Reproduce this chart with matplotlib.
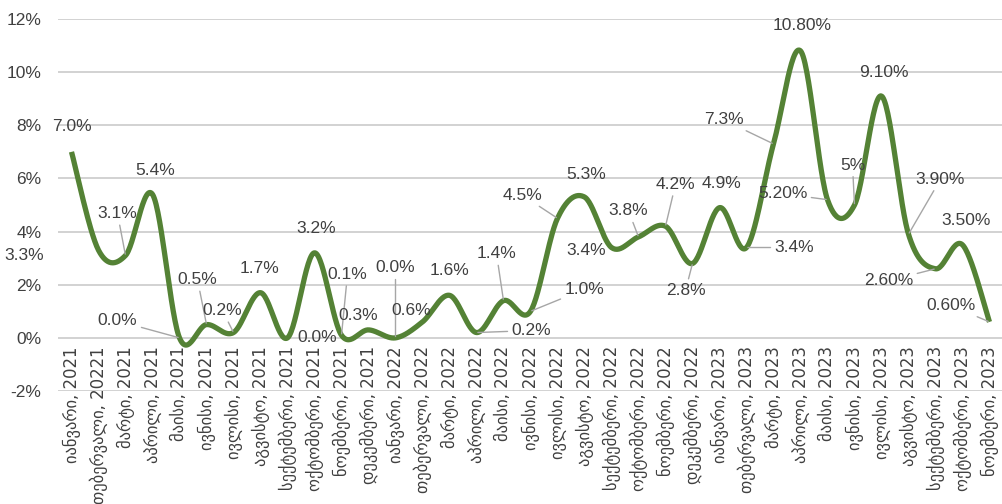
import numpy as np
import matplotlib
matplotlib.use("Agg")
from matplotlib import pyplot as plt

# month names (Georgian) and years, as written on the chart
months = [
    "იანვარი", "თებერვალი", "მარტი", "აპრილი", "მაისი", "ივნისი",
    "ივლისი", "აგვისტო", "სექტემბერი", "ოქტომბერი", "ნოემბერი", "დეკემბერი",
]
tick_labels = (
    [f"{m}, 2021" for m in months]
    + [f"{m}, 2022" for m in months]
    + [f"{m}, 2023" for m in months[:11]]
)
tick_labels[1] = "თებერვალი, 20221"

values = [
    7.0, 3.3, 3.1, 5.4, 0.0, 0.5, 0.2, 1.7, 0.0, 3.2, 0.1, 0.3,
    0.0, 0.6, 1.6, 0.2, 1.4, 1.0, 4.5, 5.3, 3.4, 3.8, 4.2, 2.8,
    4.9, 3.4, 7.3, 10.8, 5.2, 5.0, 9.1, 3.9, 2.6, 3.5, 0.6,
]
value_labels = [
    "7.0%", "3.3%", "3.1%", "5.4%", "0.0%", "0.5%", "0.2%", "1.7%", "0.0%", "3.2%", "0.1%", "0.3%",
    "0.0%", "0.6%", "1.6%", "0.2%", "1.4%", "1.0%", "4.5%", "5.3%", "3.4%", "3.8%", "4.2%", "2.8%",
    "4.9%", "3.4%", "7.3%", "10.80%", "5.20%", "5%", "9.10%", "3.90%", "2.60%", "3.50%", "0.60%",
]

# label offsets from each point, in pixels (dx, dy up), and whether a leader line is drawn
label_offsets = [
    (0, 25), (-74, -5), (-8, 42), (3, 24), (-62, 17), (-9, 45), (-11, 22), (-1, 24),
    (30, 0), (2, 24), (6, 61), (-10, 14),
    (0, 70), (-11, 11), (0, 25), (55, 2), (-7, 47), (54, 22), (-35, 23), (2, 23),
    (-25, -3), (-10, 26), (10, 42), (-7, -27),
    (2, 24), (48, 0), (-50, 24), (2, 25), (-45, 6), (-2, 40), (2, 24), (32, 55),
    (-47, -12), (4, 24), (-38, 16),
]
leaders = [
    0, 0, 1, 0, 1, 1, 1, 0, 0, 0, 1, 0,
    1, 0, 0, 1, 1, 1, 1, 0, 0, 1, 1, 1,
    0, 1, 1, 0, 1, 1, 0, 1, 1, 0, 1,
]


def smooth(xs, ys, n=30):
    # Bezier smoothing like a spreadsheet "smoothed line" (Catmull-Rom tangents)
    p = np.column_stack([xs, ys]).astype(float)
    ext = np.vstack([p[0], p, p[-1]])
    out = []
    for i in range(len(p) - 1):
        p0, p1, p2, p3 = ext[i], ext[i + 1], ext[i + 2], ext[i + 3]
        b1 = p1 + (p2 - p0) / 6
        b2 = p2 - (p3 - p1) / 6
        t = np.linspace(0, 1, n, endpoint=(i == len(p) - 2))[:, None]
        seg = ((1 - t) ** 3) * p1 + 3 * ((1 - t) ** 2) * t * b1 + 3 * (1 - t) * t ** 2 * b2 + t ** 3 * p2
        out.append(seg)
    out = np.vstack(out)
    return out[:, 0], out[:, 1]


text_color = "#404040"
grid_color = "#c6c6c6"
line_color = "#548235"
fonts = ["Liberation Sans", "DejaVu Sans"]
tick_fonts = ["Liberation Sans Narrow", "DejaVu Sans"]

fig = plt.figure(figsize=(10.03, 5.04), dpi=100)
ax = fig.add_axes([58 / 1003, 1 - 391 / 504, 1 - 58 / 1003, (391 - 19) / 504])

x = np.arange(len(values))
sx, sy = smooth(x, values)
ax.plot(sx, sy, color=line_color, linewidth=3.8, solid_capstyle="butt", zorder=3)

for yv in range(-2, 13, 2):
    ax.axhline(yv, color=grid_color, linewidth=1.1, zorder=0)

ax.set_xlim(-0.5, len(values) - 0.5)
ax.set_ylim(-2, 12)
ax.set_yticks(range(-2, 13, 2))
ax.set_yticklabels([f"{v}%" for v in range(-2, 13, 2)], family=fonts, fontsize=12.5, color=text_color)
ax.tick_params(axis="y", length=0, pad=12)

ax.spines["bottom"].set_position(("data", 0))
for s in ["top", "right", "left", "bottom"]:
    ax.spines[s].set_visible(False)
ax.set_xticks(x)
ax.set_xticklabels(tick_labels, rotation=90, family=tick_fonts, fontsize=11.9, color=text_color)
ax.tick_params(axis="x", length=0, pad=6)

for i, v in enumerate(values):
    dx, dy = label_offsets[i]
    kw = {}
    if leaders[i]:
        kw["arrowprops"] = dict(arrowstyle="-", color="#a6a6a6", lw=1.0, shrinkA=1, shrinkB=1)
    ax.annotate(
        value_labels[i], xy=(i, v), xytext=(dx, dy), textcoords="offset pixels",
        ha="center", va="center", fontsize=12.5, family=fonts, color=text_color,
        zorder=4, **kw,
    )

fig.savefig("out.png", dpi=100)
